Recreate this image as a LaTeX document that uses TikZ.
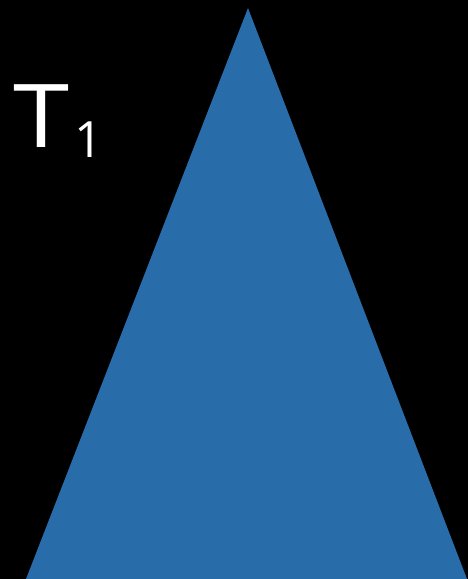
\documentclass[tikz,border=0pt]{standalone}
\usepackage{fontspec}
\setmainfont{Open Sans}
\definecolor{triblue}{RGB}{40,108,170}
\begin{document}
\begin{tikzpicture}[x=1pt,y=-1pt,
  lbl/.style={text=white,inner sep=0pt,anchor=base west}]
\useasboundingbox (0,0) rectangle (468,579);
\fill[black] (0,0) rectangle (468,579);
\coordinate (apex) at (248,8);
\coordinate (bl) at (26,579);
\coordinate (br) at (467,579);
\fill[triblue] (apex) -- (bl) -- (br) -- cycle;
\node[lbl,font=\fontsize{88}{88}\selectfont,xscale=1.15] (T) at (13,147) {T};
\node[lbl,font=\fontsize{50}{50}\selectfont] (one) at (74,157) {1};
\end{tikzpicture}
\end{document}
